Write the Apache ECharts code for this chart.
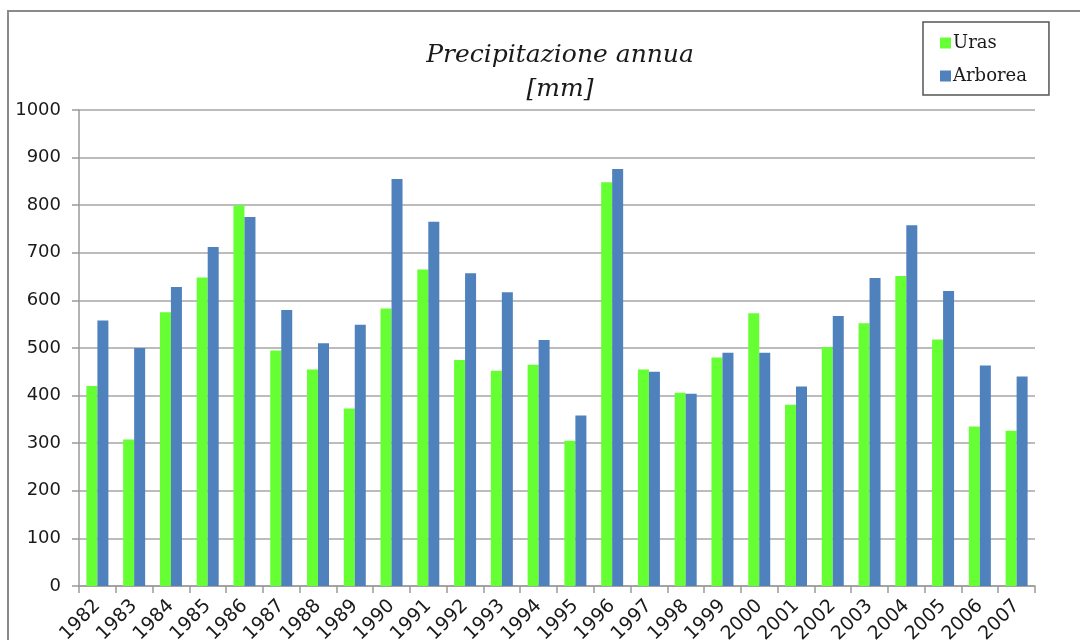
<!DOCTYPE html>
<html>
<head>
<meta charset="utf-8">
<script src="https://cdn.jsdelivr.net/npm/echarts@6/dist/echarts.min.js"></script>
<style>
  html, body { margin: 0; padding: 0; background: #ffffff; }
  #chart { width: 1080px; height: 640px; }
</style>
</head>
<body>
<div id="chart"></div>
<script>
// Annual precipitation (mm) at two stations, 1982-2007
const years = ['1982','1983','1984','1985','1986','1987','1988','1989','1990','1991','1992','1993','1994',
               '1995','1996','1997','1998','1999','2000','2001','2002','2003','2004','2005','2006','2007'];
const uras = [420, 308, 575, 648, 800, 495, 455, 373, 583, 665, 475, 452, 465,
              305, 848, 455, 406, 480, 573, 381, 502, 552, 651, 518, 335, 326];
const arborea = [558, 500, 628, 712, 775, 580, 510, 549, 855, 765, 657, 617, 517,
                 358, 876, 450, 404, 490, 490, 419, 567, 647, 758, 620, 463, 440];
const yTicks = [0, 100, 200, 300, 400, 500, 600, 700, 800, 900, 1000];

const chart = echarts.init(document.getElementById('chart'), null, { renderer: 'canvas' });

const axisGray = '#9a9a9a';

chart.setOption({
  backgroundColor: '#ffffff',
  animation: false,
  title: {
    text: 'Precipitazione annua\n[mm]',
    left: 555,
    top: 33,
    textAlign: 'center',
    textStyle: {
      fontFamily: 'DejaVu Serif',
      fontStyle: 'italic',
      fontWeight: 'normal',
      fontSize: 25,
      lineHeight: 34,
      color: '#1a1a1a'
    }
  },
  legend: {
    orient: 'vertical',
    left: 923,
    top: 22,
    width: 110,
    padding: [12, 22, 10, 17],
    itemGap: 15,
    itemWidth: 11,
    itemHeight: 11,
    icon: 'rect',
    borderColor: '#555555',
    borderWidth: 1.5,
    backgroundColor: '#ffffff',
    textStyle: {
      fontFamily: 'DejaVu Serif',
      fontSize: 18,
      color: '#1a1a1a',
      padding: [0, 0, 0, -3]
    },
    data: ['Uras', 'Arborea']
  },
  grid: {
    left: 79,
    right: 45,
    top: 110,
    bottom: 54,
    containLabel: false,
    outerBoundsMode: 'none'
  },
  xAxis: {
    type: 'category',
    data: years,
    axisLine: { lineStyle: { color: axisGray, width: 1.5 } },
    axisTick: { show: true, length: 7, lineStyle: { color: axisGray, width: 1.5 } },
    axisLabel: {
      rotate: 45,
      interval: 0,
      margin: 17,
      fontFamily: 'DejaVu Sans',
      fontSize: 19,
      color: '#1a1a1a'
    }
  },
  yAxis: {
    type: 'value',
    min: 0,
    max: 1000,
    interval: 100,
    axisLine: { show: true, lineStyle: { color: axisGray, width: 1.5 } },
    axisTick: { show: true, length: 7, lineStyle: { color: axisGray, width: 1.5 } },
    splitLine: { lineStyle: { color: '#a6a6a6', width: 1.5 } },
    axisLabel: {
      margin: 18,
      fontFamily: 'DejaVu Sans',
      fontSize: 18,
      color: '#1a1a1a',
      formatter: v => yTicks.includes(v) ? String(v) : ''
    }
  },
  series: [
    {
      name: 'Uras',
      type: 'bar',
      data: uras,
      barWidth: 11,
      barGap: '0%',
      itemStyle: { color: '#66ff33' }
    },
    {
      name: 'Arborea',
      type: 'bar',
      data: arborea,
      barWidth: 11,
      barGap: '0%',
      itemStyle: { color: '#4f81bd' }
    }
  ],
  graphic: [
    {
      type: 'polyline',
      silent: true,
      shape: { points: [[8, 640], [8, 11], [1080, 11]] },
      style: { stroke: '#8a8a8a', lineWidth: 2, fill: null }
    }
  ]
});
</script>
</body>
</html>
